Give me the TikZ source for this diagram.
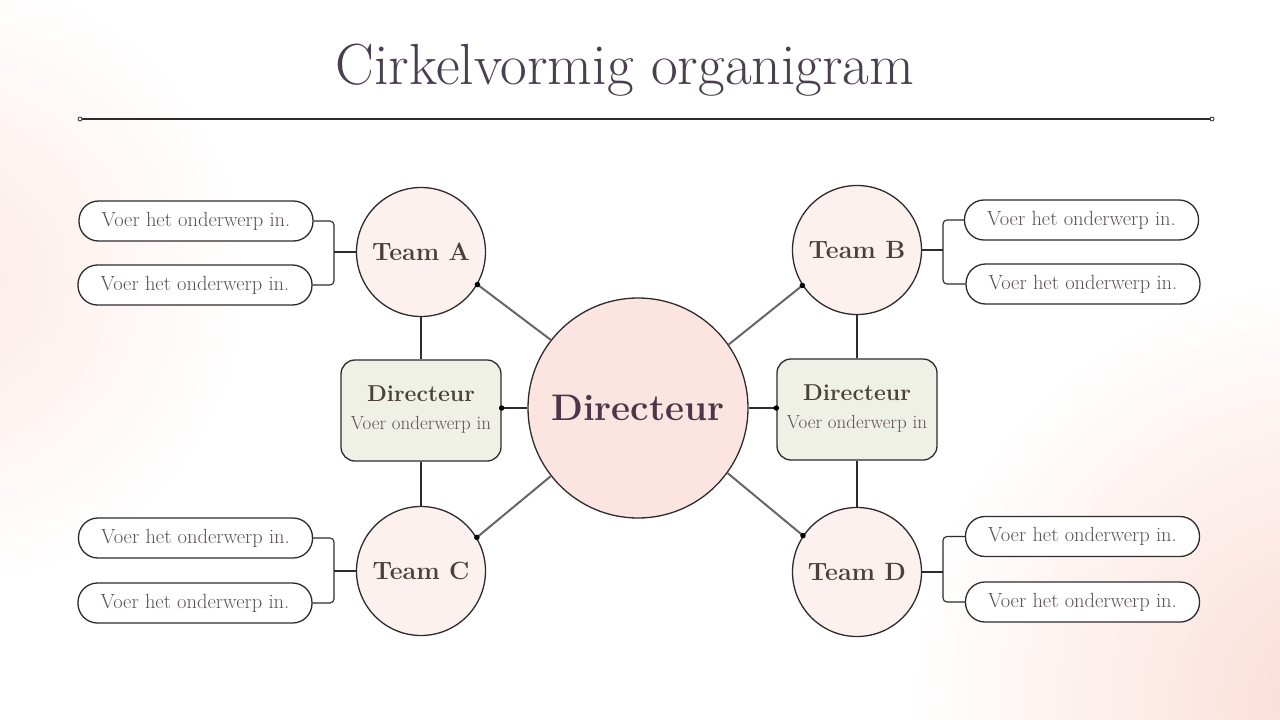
\documentclass[tikz,border=0pt]{standalone}
\usepackage{fontspec}
\usetikzlibrary{calc}
\definecolor{titlec}{HTML}{4A3F4E}
\definecolor{teamtxt}{HTML}{4A4238}
\definecolor{pilltxt}{HTML}{5A5252}
\definecolor{ctrtxt}{HTML}{4E3548}
\definecolor{teamfill}{HTML}{FDF1EF}
\definecolor{ctrfill}{HTML}{FCE5E1}
\definecolor{boxfill}{HTML}{EFF0E6}
\definecolor{linec}{HTML}{2E2A2E}
\definecolor{spoke}{HTML}{666666}
\definecolor{blush}{HTML}{FBDCD5}
\tikzset{
  team/.style={circle, draw=linec, line width=1.3pt, fill=teamfill, minimum size=129pt, inner sep=0pt,
    text=teamtxt, font=\fontsize{25}{27}\selectfont\bfseries},
  center/.style={circle, draw=linec, line width=1.3pt, fill=ctrfill, minimum size=220pt, inner sep=0pt,
    text=ctrtxt, font=\fontsize{37}{40}\selectfont\bfseries},
  dirbox/.style={rectangle, rounded corners=14pt, draw=linec, line width=1.3pt, fill=boxfill,
    minimum width=160pt, minimum height=101pt, inner sep=0pt},
  boxhead/.style={text=teamtxt, font=\fontsize{23}{25}\selectfont\bfseries, inner sep=0pt},
  boxsub/.style={text=pilltxt, font=\fontsize{19}{21}\selectfont, inner sep=0pt},
  pill/.style={rectangle, rounded corners=19.5pt, draw=linec, line width=1.3pt, fill=white,
    minimum width=234pt, minimum height=40pt, inner sep=0pt, text=pilltxt,
    font=\fontsize{20.5}{22}\selectfont},
  thin/.style={draw=linec, line width=1.1pt},
  spokeline/.style={draw=spoke, line width=2pt},
  dot/.style={circle, fill=black, minimum size=5.5pt, inner sep=0pt},
}
\begin{document}
\begin{tikzpicture}[x=1pt, y=-1pt]
\useasboundingbox (0,0) rectangle (1280,720);
\fill[white] (0,0) rectangle (1280,720);
% background blush
\begin{scope}
\clip (0,0) rectangle (1280,720);
\shade[inner color=blush!60, outer color=white] (-60,280) circle (310);
\shade[inner color=blush, outer color=white] (1330,700) circle (420);
\end{scope}
% title
\node[text=titlec, font=\fontsize{58}{60}\selectfont] (title) at (625,70) {Cirkelvormig organigram};
\coordinate (l1) at (80,119);
\coordinate (l2) at (1212,119);
\draw[linec, line width=1.2pt] (l1) -- (l2);
\draw[linec, line width=0.8pt, fill=white] (l1) circle (2pt);
\draw[linec, line width=0.8pt, fill=white] (l2) circle (2pt);

% nodes
\node[center] (C) at (638,408) {Directeur};
\node[team] (A) at (421,252) {Team A};
\node[team] (B) at (857,250) {Team B};
\node[team] (TC) at (421,571) {Team C};
\node[team] (D) at (857,572) {Team D};
\node[dirbox] (L) at (421,410.5) {};
\node[boxhead] (Lh) at (421,394) {Directeur};
\node[boxsub] (Ls) at (421,425) {Voer onderwerp in};
\node[dirbox] (R) at (857,409.5) {};
\node[boxhead] (Rh) at (857,393) {Directeur};
\node[boxsub] (Rs) at (857,424) {Voer onderwerp in};

\node[pill] (A1) at (196,221) {Voer het onderwerp in.};
\node[pill] (A2) at (195,285) {Voer het onderwerp in.};
\node[pill] (C1) at (195.5,538) {Voer het onderwerp in.};
\node[pill] (C2) at (195,603) {Voer het onderwerp in.};
\node[pill] (B1) at (1081.5,220) {Voer het onderwerp in.};
\node[pill] (B2) at (1083,284) {Voer het onderwerp in.};
\node[pill] (D1) at (1082.5,536.5) {Voer het onderwerp in.};
\node[pill] (D2) at (1082.5,602) {Voer het onderwerp in.};

% spokes
\path[spokeline] (C.142.6) -- (A.-30.5) node[dot, pos=1] (dA) {};
\path[spokeline] (C.35.4) -- (B.213) node[dot, pos=1] (dB) {};
\path[spokeline] (C.218) -- (TC.31.7) node[dot, pos=1] (dC) {};
\path[spokeline] (C.-36.6) -- (D.146.8) node[dot, pos=1] (dD) {};

% director links
\draw[thin] (C.west) -- (C.west -| L.east) node[dot, pos=1] (dL) {};
\draw[thin] (C.east) -- (C.east -| R.west) node[dot, pos=1] (dR) {};
\draw[thin] (A.south) -- (L.north);
\draw[thin] (L.south) -- (TC.north);
\draw[thin] (B.south) -- (R.north);
\draw[thin] (R.south) -- (D.north);

% brackets left
\coordinate (ba) at (334,0);
\draw[thin, rounded corners=4pt] (A1.east) -- (A1.east -| ba) -- (A2.east -| ba) -- (A2.east);
\draw[thin] (A.west) -- (A.west -| ba);
\draw[thin, rounded corners=4pt] (C1.east) -- (C1.east -| ba) -- (C2.east -| ba) -- (C2.east);
\draw[thin] (TC.west) -- (TC.west -| ba);
% brackets right
\coordinate (bb) at (943,0);
\draw[thin, rounded corners=4pt] (B1.west) -- (B1.west -| bb) -- (B2.west -| bb) -- (B2.west);
\draw[thin] (B.east) -- (B.east -| bb);
\draw[thin, rounded corners=4pt] (D1.west) -- (D1.west -| bb) -- (D2.west -| bb) -- (D2.west);
\draw[thin] (D.east) -- (D.east -| bb);
\end{tikzpicture}
\end{document}
